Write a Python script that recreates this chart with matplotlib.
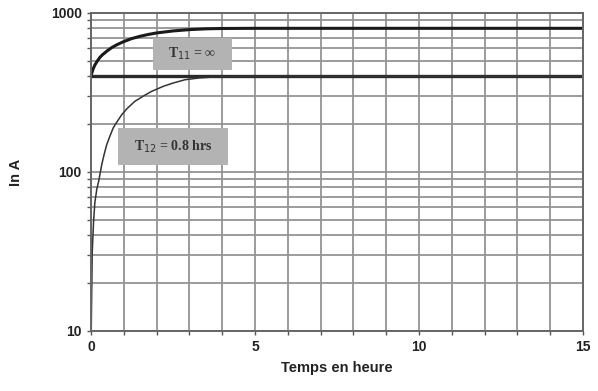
import matplotlib.pyplot as plt
from matplotlib.patches import Rectangle
from matplotlib.ticker import FixedLocator, LogLocator, NullFormatter

# valeurs
t_haut = [0, 0.03, 0.07, 0.12, 0.2, 0.27, 0.35, 0.5, 0.65, 0.8, 1, 1.25, 1.5,
          1.75, 2, 2.5, 3, 3.5, 4, 5, 15]
i_haut = [400, 420, 445, 470, 500, 524, 545, 578, 608, 632, 660, 690, 713,
          732, 748, 770, 785, 794, 798, 800, 800]

t_bas = [0.01, 0.04, 0.08, 0.12, 0.18, 0.24, 0.33, 0.4, 0.48, 0.58, 0.68,
         0.75, 0.94, 1.1, 1.34, 1.6, 1.85, 2.2, 2.5, 2.87, 3.3, 3.8, 4.5,
         5.5, 15]
i_bas = [10, 31, 48, 64, 78, 88, 111, 128, 148, 168, 189,
         200, 229, 250, 278, 300, 321, 345, 362, 380, 390, 396, 399,
         400, 400]

t_base = [0, 15]
i_base = [400, 400]

x_ticks = [0, 5, 10, 15]
y_ticks = [10, 100, 1000]

plt.rcParams["font.family"] = ["Liberation Sans", "DejaVu Sans"]

fig = plt.figure(figsize=(5.98, 3.91), dpi=100)
ax = fig.add_axes([0.152, 0.1535, 0.823, 0.8135])

ax.set_yscale("log")
ax.set_xlim(0, 15)
ax.set_ylim(10, 1000)

# grille
ax.xaxis.set_minor_locator(FixedLocator(range(0, 16)))
ax.yaxis.set_minor_locator(LogLocator(base=10, subs=range(2, 10)))
ax.yaxis.set_minor_formatter(NullFormatter())
ax.grid(True, which="both", color="#949494", linewidth=1.3)
ax.set_axisbelow(True)

ax.plot(t_base, i_base, color="#2a2a2a", linewidth=2.4)
ax.plot(t_haut, i_haut, color="#1a1a1a", linewidth=2.2)
ax.plot(t_bas, i_bas, color="#333333", linewidth=1.1)

ax.set_xticks(x_ticks)
ax.set_xticklabels([str(v) for v in x_ticks])
ax.set_yticks(y_ticks)
ax.set_yticklabels([str(v) for v in y_ticks])
ax.tick_params(which="both", direction="out", length=3, color="#555555", width=1)
ax.tick_params(labelsize=10)
for lab in ax.get_xticklabels() + ax.get_yticklabels():
    lab.set_fontweight("bold")
    lab.set_color("#222222")

for s in ax.spines.values():
    s.set_color("#666666")
    s.set_linewidth(1.4)

ax.set_xlabel("Temps en heure", fontsize=10.5, fontweight="bold", labelpad=5,
              color="#222222")
ax.set_ylabel("In A", fontsize=10.5, fontweight="bold", labelpad=20,
              color="#222222")

# étiquettes grisées
ax.add_patch(Rectangle((0.126, 0.821), 0.161, 0.10, transform=ax.transAxes,
                       facecolor="#b3b3b3", edgecolor="none", zorder=5))
ax.text(0.2065, 0.871, "T$_{11}$ = ∞", transform=ax.transAxes, ha="center",
        va="center", fontsize=10, fontweight="bold", family="Liberation Serif",
        color="#333333", zorder=6)

ax.add_patch(Rectangle((0.055, 0.522), 0.224, 0.116, transform=ax.transAxes,
                       facecolor="#b3b3b3", edgecolor="none", zorder=5))
ax.text(0.167, 0.58, "T$_{12}$ = 0.8 hrs", transform=ax.transAxes, ha="center",
        va="center", fontsize=10, fontweight="bold", family="Liberation Serif",
        color="#333333", zorder=6)

fig.savefig("out.png", dpi=100)
